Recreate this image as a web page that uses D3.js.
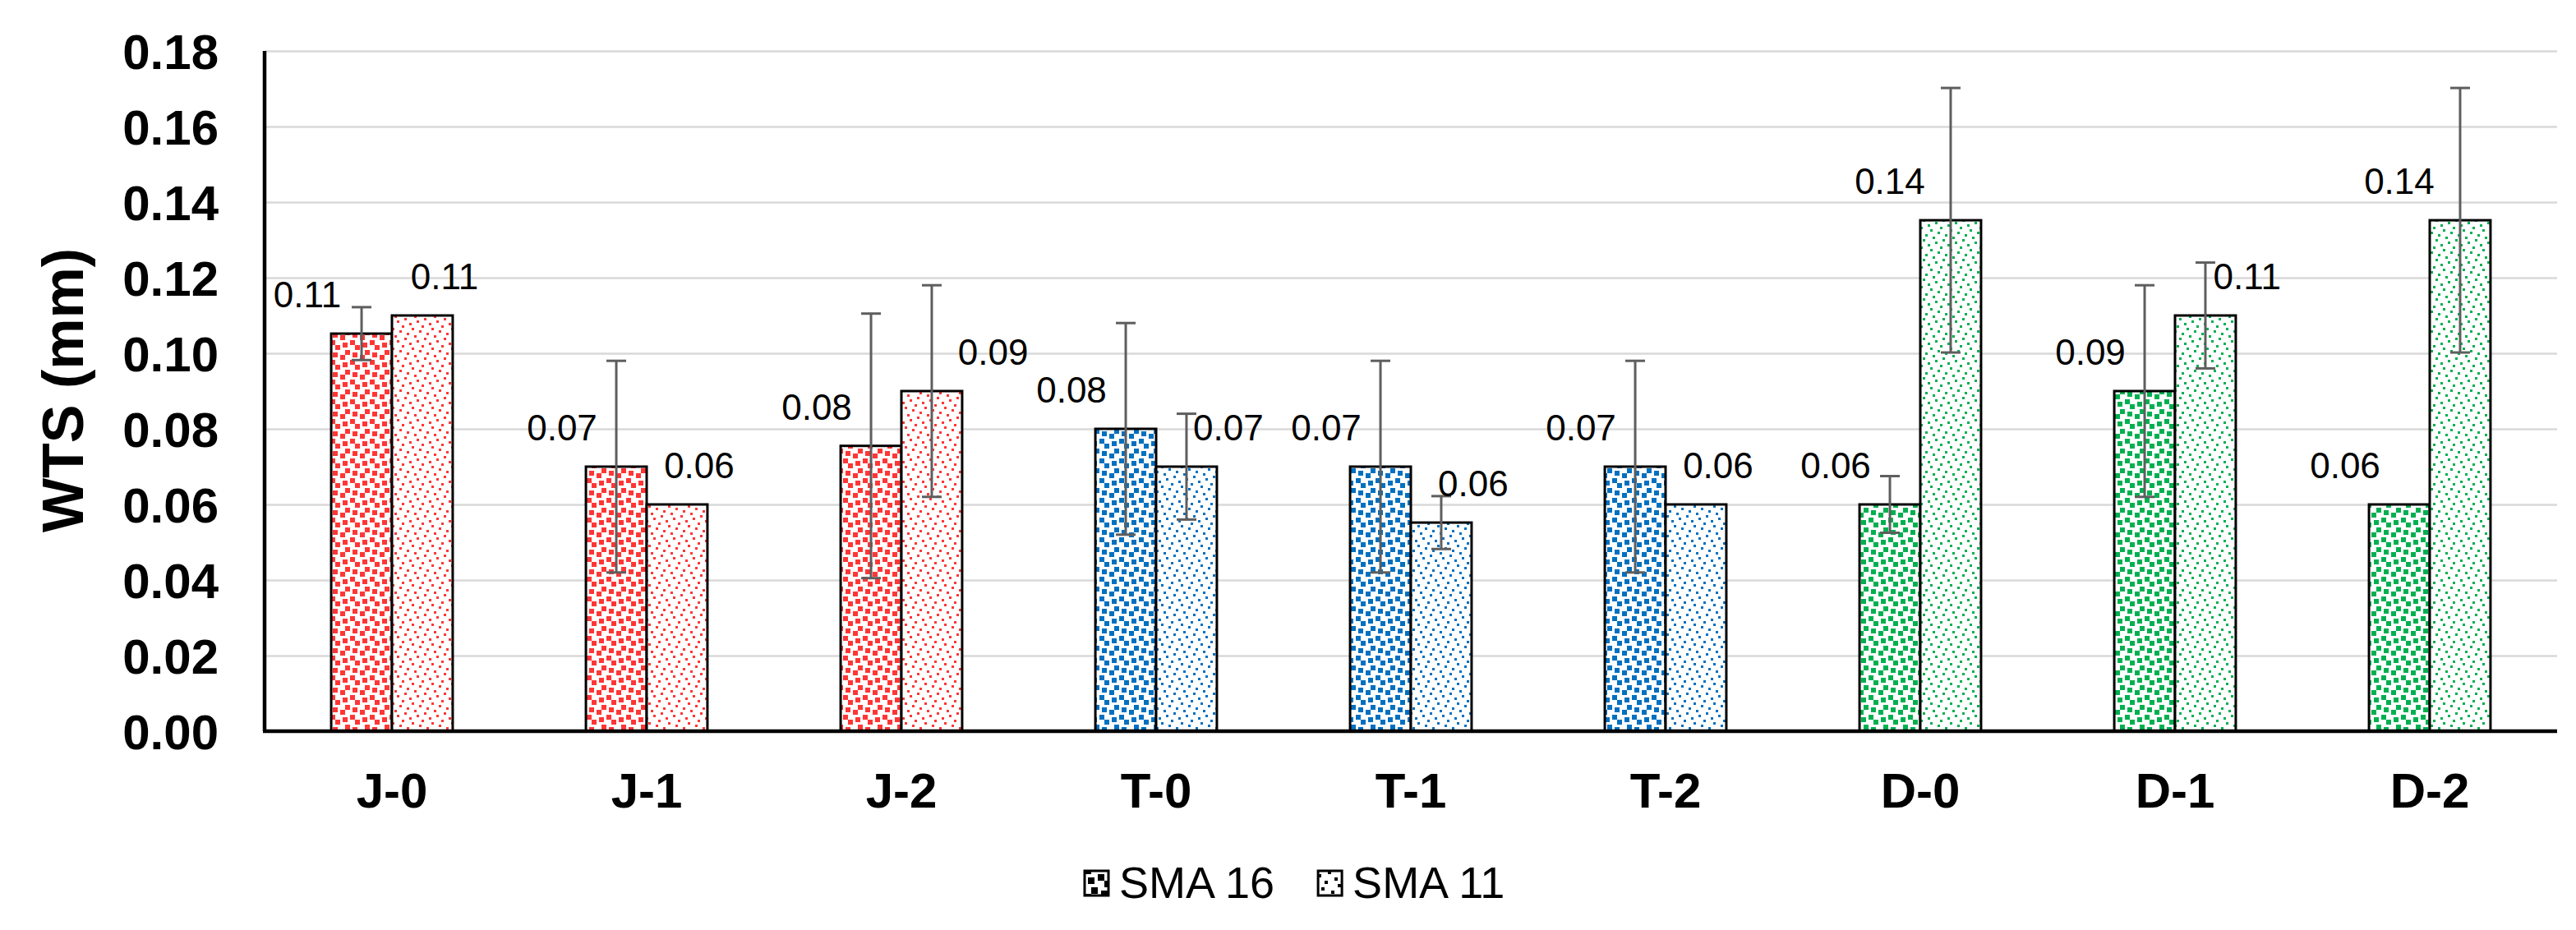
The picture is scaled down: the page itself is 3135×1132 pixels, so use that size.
<!DOCTYPE html>
<html>
<head>
<meta charset="utf-8">
<script src="https://cdn.jsdelivr.net/npm/d3@7"></script>
<style>
  body { margin: 0; background: #fff; }
  text { font-family: Arial, "Liberation Sans", sans-serif; }
</style>
</head>
<body>
<script>
// data
var categories = ['J-0', 'J-1', 'J-2', 'T-0', 'T-1', 'T-2', 'D-0', 'D-1', 'D-2']
var seriesNames = ['SMA 16', 'SMA 11']
var sma16 = [0.1052, 0.070, 0.0755, 0.080, 0.070, 0.070, 0.060, 0.090, 0.060]
var sma16Err = [0.007, 0.028, 0.035, 0.028, 0.028, 0.028, 0.0075, 0.028, 0]
var sma11 = [0.110, 0.060, 0.090, 0.070, 0.0552, 0.060, 0.1352, 0.110, 0.1352]
var sma11Err = [0, 0, 0.028, 0.014, 0.007, 0, 0.035, 0.014, 0.035]
var yTicks = [0, 0.02, 0.04, 0.06, 0.08, 0.10, 0.12, 0.14, 0.16, 0.18]

// note: "top" is taken by window.top, so plot edges get a prefix
var W = 3135, H = 1132
  , pLeft = 322, pRight = 3112, pTop = 62, pBottom = 890
  , colors = {J: '#FF3636', T: '#0070C0', D: '#00B050'}

var svg = d3.select('body').append('svg').attr('width', W).attr('height', H)
  , defs = svg.append('defs')

// excel-like confetti fills (8x8 bitmaps)
var lgConfetti = [0xb1, 0x30, 0x03, 0x1b, 0xd8, 0xc0, 0x0c, 0x8d]
  , smConfetti = [0x80, 0x08, 0x40, 0x02, 0x10, 0x01, 0x20, 0x04]

function pattern(id, bits, color, px){
  var p = defs.append('pattern').attr('id', id)
    .attr('patternUnits', 'userSpaceOnUse')
    .attr('width', 8 * px).attr('height', 8 * px)
  p.append('rect').attr('width', 8 * px).attr('height', 8 * px).attr('fill', '#fff')
  bits.forEach(function(b, r){
    for(var c = 0; c < 8; c++) if(b & (0x80 >> c))
      p.append('rect').attr('x', c * px).attr('y', r * px)
        .attr('width', px).attr('height', px)
        .attr('fill', color).attr('shape-rendering', 'crispEdges')
  })
}
Object.keys(colors).forEach(function(k){
  pattern('lg' + k, lgConfetti, colors[k], 3)
  pattern('sm' + k, smConfetti, colors[k], 3)
})
pattern('lgK', lgConfetti, '#000', 4)
pattern('smK', smConfetti, '#000', 4)

var x0 = d3.scaleBand().domain(categories).range([pLeft, pRight])
      .paddingInner(0.523).paddingOuter(0.2615)
  , x1 = d3.scaleBand().domain(seriesNames).range([0, x0.bandwidth()])
  , y = d3.scaleLinear().domain([0, 0.18]).range([pBottom, pTop])

// gridlines + y tick labels
var yAxis = svg.append('g').attr('transform', 'translate(' + pLeft + ',0)')
  .call(d3.axisLeft(y).tickValues(yTicks).tickFormat(d3.format('.2f'))
    .tickSize(-(pRight - pLeft)).tickPadding(56))
yAxis.select('.domain').remove()
yAxis.selectAll('.tick line').attr('stroke', '#d9d9d9').attr('stroke-width', 2.5)
yAxis.selectAll('.tick text')
  .attr('font-size', 60).attr('font-weight', 'bold').attr('fill', '#000')
  .attr('dy', '0.36em')
  .style('font-family', 'Arial, "Liberation Sans", sans-serif')

var rows = categories.map(function(c, i){
  return [
    {cat: c, s: 'SMA 16', v: sma16[i], e: sma16Err[i], fill: 'url(#lg' + c[0] + ')'},
    {cat: c, s: 'SMA 11', v: sma11[i], e: sma11Err[i], fill: 'url(#sm' + c[0] + ')'}
  ]
})
var flat = d3.merge(rows)
function cx(d){ return x0(d.cat) + x1(d.s) + x1.bandwidth() / 2 }

svg.append('g').selectAll('rect').data(flat).enter().append('rect')
  .attr('x', function(d){ return x0(d.cat) + x1(d.s) })
  .attr('y', function(d){ return y(d.v) })
  .attr('width', x1.bandwidth())
  .attr('height', function(d){ return y(0) - y(d.v) })
  .attr('fill', function(d){ return d.fill })
  .attr('stroke', '#000').attr('stroke-width', 3)

// error bars
var eb = svg.append('g').attr('stroke', '#5e5e5e').attr('stroke-width', 3)
  .selectAll('g').data(flat.filter(function(d){ return d.e > 0 })).enter().append('g')
eb.append('line')
  .attr('x1', cx).attr('x2', cx)
  .attr('y1', function(d){ return y(d.v + d.e) })
  .attr('y2', function(d){ return y(d.v - d.e) })
eb.selectAll('line.cap').data(function(d){ return [[d, d.v + d.e], [d, d.v - d.e]] })
  .enter().append('line').attr('class', 'cap')
  .attr('x1', function(p){ return cx(p[0]) - 12 })
  .attr('x2', function(p){ return cx(p[0]) + 12 })
  .attr('y1', function(p){ return y(p[1]) })
  .attr('y2', function(p){ return y(p[1]) })

// axis lines
svg.append('line').attr('x1', pLeft).attr('x2', pLeft).attr('y1', pTop).attr('y2', pBottom)
  .attr('stroke', '#000').attr('stroke-width', 4.5)
svg.append('line').attr('x1', pLeft - 2).attr('x2', pRight).attr('y1', pBottom).attr('y2', pBottom)
  .attr('stroke', '#000').attr('stroke-width', 4.5)

// data labels, nudged off the error bars like the original
function labelX(d){
  var ePx = y(0) - y(d.e)
  if(d.s === 'SMA 16') return cx(d) - 66
  if(d.e >= 0.03) return cx(d) - 74
  return cx(d) + 27 + 0.37 * ePx
}
svg.append('g').selectAll('text').data(flat).enter().append('text')
  .attr('x', labelX)
  .attr('y', function(d){ return y(d.v) - 32 })
  .attr('text-anchor', 'middle')
  .attr('font-size', 44).attr('fill', '#000')
  .text(function(d){ return d3.format('.2f')(d.v) })

// category axis labels
var xAxis = svg.append('g').attr('transform', 'translate(0,' + pBottom + ')')
  .call(d3.axisBottom(x0).tickSize(0).tickPadding(50))
xAxis.select('.domain').remove()
xAxis.selectAll('.tick text')
  .attr('font-size', 60).attr('font-weight', 'bold').attr('fill', '#000')
  .style('font-family', 'Arial, "Liberation Sans", sans-serif')

// y title
svg.append('text')
  .attr('transform', 'translate(101,475) rotate(-90)')
  .attr('text-anchor', 'middle')
  .attr('font-size', 70).attr('font-weight', 'bold')
  .text('WTS (mm)')

// legend
var lg = svg.append('g')
  , lx = 1320
seriesNames.forEach(function(s, i){
  lg.append('rect').attr('x', lx).attr('y', 1060).attr('width', 29).attr('height', 30)
    .attr('fill', i ? 'url(#smK)' : 'url(#lgK)')
    .attr('stroke', '#000').attr('stroke-width', 3)
  var t = lg.append('text').attr('x', lx + 42).attr('y', 1093)
    .attr('font-size', 54).attr('fill', '#000').text(s)
  lx += 42 + t.node().getComputedTextLength() + 53
})
</script>
</body>
</html>
